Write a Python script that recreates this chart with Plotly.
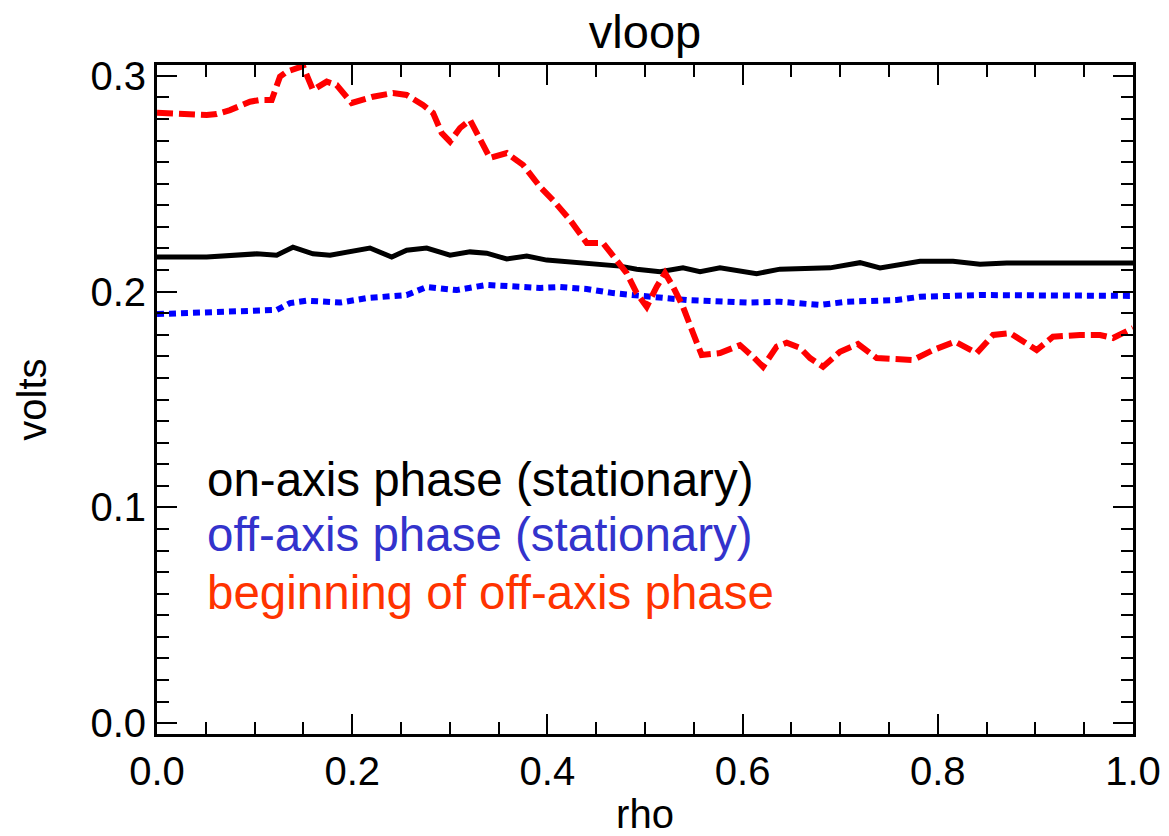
import plotly.graph_objects as go

# ---- data ----
red_rho = [0.0, 0.0509, 0.0612, 0.0748, 0.0953, 0.1055, 0.1175, 0.1260, 0.1329, 0.1496,
           0.1598, 0.1739, 0.1841, 0.1995, 0.2213, 0.2418, 0.2558, 0.2725, 0.2828, 0.2917,
           0.3002, 0.3105, 0.3207, 0.3309, 0.3412, 0.3583, 0.3750, 0.3924, 0.4057, 0.4232,
           0.4403, 0.4570, 0.4710, 0.4812, 0.4915, 0.5017, 0.5120, 0.5205, 0.5287, 0.5389,
           0.5492, 0.5581, 0.5768, 0.5973, 0.6107, 0.6209, 0.6349, 0.6452, 0.6588, 0.6691,
           0.6824, 0.6998, 0.7182, 0.7374, 0.7746, 0.7951, 0.8176, 0.8399, 0.8566, 0.8740,
           0.9013, 0.9180, 0.9457, 0.9662, 0.9795, 1.0]
red_v = [0.2829, 0.2818, 0.2823, 0.2841, 0.2880, 0.2888, 0.2888, 0.2996, 0.3019, 0.3045,
         0.2934, 0.2973, 0.2957, 0.2874, 0.2903, 0.2920, 0.2911, 0.2865, 0.2828, 0.2735,
         0.2695, 0.2758, 0.2795, 0.2702, 0.2619, 0.2642, 0.2587, 0.2486, 0.2424, 0.2332,
         0.2225, 0.2225, 0.2146, 0.2086, 0.1993, 0.1930, 0.2023, 0.2086, 0.2023, 0.1930,
         0.1808, 0.1706, 0.1715, 0.1752, 0.1698, 0.1652, 0.1745, 0.1763, 0.1739, 0.1692,
         0.1652, 0.1721, 0.1757, 0.1692, 0.1683, 0.1729, 0.1768, 0.1715, 0.1799, 0.1808,
         0.1729, 0.1791, 0.1799, 0.1799, 0.1785, 0.1831]

black_rho = [0.0, 0.0509, 0.1022, 0.1226, 0.1393, 0.1598, 0.1773, 0.2008, 0.2182, 0.2405,
             0.2558, 0.2763, 0.3002, 0.3207, 0.3378, 0.3583, 0.3788, 0.3993, 0.4232, 0.4403,
             0.4744, 0.4915, 0.5154, 0.5389, 0.5564, 0.5768, 0.5939, 0.6144, 0.6383, 0.6896,
             0.7203, 0.7408, 0.7818, 0.8156, 0.8432, 0.8706, 1.0]
black_v = [0.2160, 0.2160, 0.2175, 0.2169, 0.2206, 0.2175, 0.2169, 0.2188, 0.2202, 0.2160,
           0.2192, 0.2202, 0.2169, 0.2184, 0.2178, 0.2151, 0.2165, 0.2146, 0.2138, 0.2128,
           0.2118, 0.2104, 0.2092, 0.2110, 0.2092, 0.2110, 0.2100, 0.2083, 0.2104, 0.2110,
           0.2134, 0.2110, 0.2141, 0.2141, 0.2127, 0.2133, 0.2133]

blue_rho = [0.0, 0.0509, 0.0850, 0.1226, 0.1363, 0.1534, 0.1875, 0.2149, 0.2558, 0.2763,
            0.3071, 0.3378, 0.3924, 0.4129, 0.4403, 0.4672, 0.5082, 0.5427, 0.6042, 0.6383,
            0.6793, 0.7067, 0.7579, 0.7818, 0.8432, 1.0]
blue_v = [0.1896, 0.1901, 0.1907, 0.1915, 0.1947, 0.1958, 0.1949, 0.1970, 0.1984, 0.2021,
          0.2007, 0.2031, 0.2017, 0.2021, 0.2012, 0.1993, 0.1975, 0.1961, 0.1949, 0.1953,
          0.1938, 0.1953, 0.1961, 0.1976, 0.1984, 0.1980]

legend_labels = ["on-axis phase (stationary)", "off-axis phase (stationary)",
                 "beginning of off-axis phase"]
legend_colors = ["#000000", "#3333cc", "#ff3300"]

x_ticks = [0.0, 0.2, 0.4, 0.6, 0.8, 1.0]
x_ticklabels = ["0.0", "0.2", "0.4", "0.6", "0.8", "1.0"]
y_ticks = [0.0, 0.1, 0.2, 0.3]
y_ticklabels = ["0.0", "0.1", "0.2", "0.3"]

FONT = "Liberation Sans, Arial, Helvetica, sans-serif"

fig = go.Figure()
fig.add_trace(go.Scatter(x=black_rho, y=black_v, mode="lines",
                         line=dict(color="#000000", width=5), showlegend=False))
fig.add_trace(go.Scatter(x=blue_rho, y=blue_v, mode="lines",
                         line=dict(color="#0000ff", width=6, dash="7px,5px"), showlegend=False))
fig.add_trace(go.Scatter(x=red_rho, y=red_v, mode="lines",
                         line=dict(color="#ff0000", width=6, dash="16px,6px"), showlegend=False))

legend_y = [0.380, 0.2975, 0.212]
for lab, col, yy in zip(legend_labels, legend_colors, legend_y):
    fig.add_annotation(text=lab, xref="paper", yref="paper", x=0.049, y=yy,
                       xanchor="left", yanchor="middle", showarrow=False,
                       font=dict(family=FONT, size=47.5, color=col))

axis_common = dict(
    showline=True, linecolor="black", linewidth=3, mirror="allticks",
    ticks="inside", ticklen=20, tickwidth=2, tickcolor="black",
    showgrid=False, zeroline=False, automargin=False,
    tickfont=dict(family=FONT, size=40, color="black"),
)

fig.update_xaxes(range=[0, 1], tickvals=x_ticks, ticktext=x_ticklabels,
                 minor=dict(dtick=0.05, ticks="inside", ticklen=12, tickwidth=2,
                            tickcolor="black", showgrid=False),
                 title=dict(text="rho", font=dict(family=FONT, size=40, color="black"),
                            standoff=12),
                 **axis_common)
fig.update_yaxes(range=[-0.005, 0.305], tickvals=y_ticks, ticktext=y_ticklabels,
                 minor=dict(dtick=0.01, ticks="inside", ticklen=12, tickwidth=2,
                            tickcolor="black", showgrid=False),
                 title=dict(text="volts", font=dict(family=FONT, size=40, color="black"),
                            standoff=32),
                 **axis_common)

fig.update_layout(
    width=1169, height=836,
    margin=dict(l=157, r=36, t=65, b=102),
    paper_bgcolor="white", plot_bgcolor="white",
    title=dict(text="vloop", x=0.5518, xanchor="center", y=0.962, yanchor="middle",
               xref="container", yref="container",
               font=dict(family=FONT, size=47, color="black")),
)

fig.write_html("out.html")
